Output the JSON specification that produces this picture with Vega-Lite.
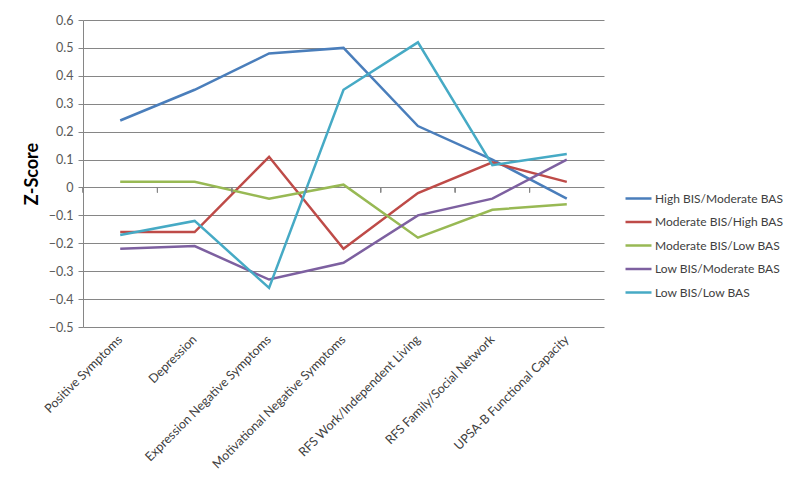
{
  "$schema": "https://vega.github.io/schema/vega-lite/v6.json",
  "width": 521,
  "height": 307,
  "autosize": {"type": "none"},
  "padding": {"left": 83, "top": 20, "right": 196, "bottom": 159},
  "background": "white",
  "config": {"view": {"stroke": null}, "font": "Lato"},
  "data": {
    "values": [
      {"measure": "Positive Symptoms", "group": "High BIS/Moderate BAS", "z": 0.24},
      {"measure": "Depression", "group": "High BIS/Moderate BAS", "z": 0.35},
      {"measure": "Expression Negative Symptoms", "group": "High BIS/Moderate BAS", "z": 0.48},
      {"measure": "Motivational Negative Symptoms", "group": "High BIS/Moderate BAS", "z": 0.50},
      {"measure": "RFS Work/Independent Living", "group": "High BIS/Moderate BAS", "z": 0.22},
      {"measure": "RFS Family/Social Network", "group": "High BIS/Moderate BAS", "z": 0.10},
      {"measure": "UPSA-B Functional Capacity", "group": "High BIS/Moderate BAS", "z": -0.04},
      {"measure": "Positive Symptoms", "group": "Moderate BIS/High BAS", "z": -0.16},
      {"measure": "Depression", "group": "Moderate BIS/High BAS", "z": -0.16},
      {"measure": "Expression Negative Symptoms", "group": "Moderate BIS/High BAS", "z": 0.11},
      {"measure": "Motivational Negative Symptoms", "group": "Moderate BIS/High BAS", "z": -0.22},
      {"measure": "RFS Work/Independent Living", "group": "Moderate BIS/High BAS", "z": -0.02},
      {"measure": "RFS Family/Social Network", "group": "Moderate BIS/High BAS", "z": 0.09},
      {"measure": "UPSA-B Functional Capacity", "group": "Moderate BIS/High BAS", "z": 0.02},
      {"measure": "Positive Symptoms", "group": "Moderate BIS/Low BAS", "z": 0.02},
      {"measure": "Depression", "group": "Moderate BIS/Low BAS", "z": 0.02},
      {"measure": "Expression Negative Symptoms", "group": "Moderate BIS/Low BAS", "z": -0.04},
      {"measure": "Motivational Negative Symptoms", "group": "Moderate BIS/Low BAS", "z": 0.01},
      {"measure": "RFS Work/Independent Living", "group": "Moderate BIS/Low BAS", "z": -0.18},
      {"measure": "RFS Family/Social Network", "group": "Moderate BIS/Low BAS", "z": -0.08},
      {"measure": "UPSA-B Functional Capacity", "group": "Moderate BIS/Low BAS", "z": -0.06},
      {"measure": "Positive Symptoms", "group": "Low BIS/Moderate BAS", "z": -0.22},
      {"measure": "Depression", "group": "Low BIS/Moderate BAS", "z": -0.21},
      {"measure": "Expression Negative Symptoms", "group": "Low BIS/Moderate BAS", "z": -0.33},
      {"measure": "Motivational Negative Symptoms", "group": "Low BIS/Moderate BAS", "z": -0.27},
      {"measure": "RFS Work/Independent Living", "group": "Low BIS/Moderate BAS", "z": -0.10},
      {"measure": "RFS Family/Social Network", "group": "Low BIS/Moderate BAS", "z": -0.04},
      {"measure": "UPSA-B Functional Capacity", "group": "Low BIS/Moderate BAS", "z": 0.10},
      {"measure": "Positive Symptoms", "group": "Low BIS/Low BAS", "z": -0.17},
      {"measure": "Depression", "group": "Low BIS/Low BAS", "z": -0.12},
      {"measure": "Expression Negative Symptoms", "group": "Low BIS/Low BAS", "z": -0.36},
      {"measure": "Motivational Negative Symptoms", "group": "Low BIS/Low BAS", "z": 0.35},
      {"measure": "RFS Work/Independent Living", "group": "Low BIS/Low BAS", "z": 0.52},
      {"measure": "RFS Family/Social Network", "group": "Low BIS/Low BAS", "z": 0.08},
      {"measure": "UPSA-B Functional Capacity", "group": "Low BIS/Low BAS", "z": 0.12}
    ]
  },
  "layer": [
    {
      "mark": {"type": "line", "strokeWidth": 2.5},
      "encoding": {
        "x": {
          "field": "measure",
          "type": "nominal",
          "bandPosition": 0.5,
          "sort": ["Positive Symptoms", "Depression", "Expression Negative Symptoms", "Motivational Negative Symptoms", "RFS Work/Independent Living", "RFS Family/Social Network", "UPSA-B Functional Capacity"],
          "scale": {"type": "band", "paddingInner": 0, "paddingOuter": 0},
          "axis": {
            "title": null,
            "domain": false,
            "ticks": false,
            "labelAngle": -45,
            "labelAlign": "right",
            "labelBaseline": "middle",
            "labelPadding": 10,
            "labelFontSize": 12.5,
            "labelColor": "#404040",
            "labelLimit": 300,
            "labelOverlap": false
          }
        },
        "y": {
          "field": "z",
          "type": "quantitative",
          "title": "Z-Score",
          "scale": {"domain": [-0.5, 0.6], "nice": false, "zero": false},
          "axis": {
            "title": "Z-Score",
            "titleFontSize": 18,
            "titleFontWeight": "bold",
            "titleColor": "#000000",
            "titlePadding": 7,
            "values": [-0.5, -0.4, -0.3, -0.2, -0.1, 0, 0.1, 0.2, 0.3, 0.4, 0.5, 0.6],
            "labelExpr": "datum.value == 0 ? '0' : format(datum.value, '.1f')",
            "labelFontSize": 12.5,
            "labelColor": "#595959",
            "labelPadding": 5,
            "labelOverlap": false,
            "labelBound": false,
            "tickSize": 5,
            "tickColor": "#868686",
            "domainColor": "#868686",
            "grid": true,
            "gridColor": "#868686",
            "gridWidth": 1
          }
        },
        "color": {
          "field": "group",
          "type": "nominal",
          "scale": {
            "domain": ["High BIS/Moderate BAS", "Moderate BIS/High BAS", "Moderate BIS/Low BAS", "Low BIS/Moderate BAS", "Low BIS/Low BAS"],
            "range": ["#4A7EBB", "#BE4B48", "#98B954", "#7D60A0", "#46AAC5"]
          },
          "legend": {
            "orient": "none",
            "legendX": 541,
            "legendY": 164,
            "title": null,
            "symbolType": "stroke",
            "symbolSize": 676,
            "symbolStrokeWidth": 2.5,
            "rowPadding": 2.5,
            "labelFontSize": 12,
            "labelColor": "#404040",
            "labelOffset": 2,
            "labelLimit": 200
          }
        }
      }
    },
    {
      "mark": {"type": "tick", "orient": "vertical", "size": 5, "thickness": 1, "color": "#868686", "yOffset": 2.5},
      "encoding": {
        "x": {
          "field": "measure",
          "type": "nominal",
          "bandPosition": 0,
          "sort": ["Positive Symptoms", "Depression", "Expression Negative Symptoms", "Motivational Negative Symptoms", "RFS Work/Independent Living", "RFS Family/Social Network", "UPSA-B Functional Capacity"],
          "axis": {
            "title": null,
            "domain": false,
            "ticks": false,
            "labelAngle": -45,
            "labelAlign": "right",
            "labelBaseline": "middle",
            "labelPadding": 10,
            "labelFontSize": 12.5,
            "labelColor": "#404040",
            "labelLimit": 300,
            "labelOverlap": false
          }
        },
        "y": {
          "datum": 0,
          "type": "quantitative",
          "title": "Z-Score",
          "axis": {
            "title": "Z-Score",
            "titleFontSize": 18,
            "titleFontWeight": "bold",
            "titleColor": "#000000",
            "titlePadding": 7,
            "values": [-0.5, -0.4, -0.3, -0.2, -0.1, 0, 0.1, 0.2, 0.3, 0.4, 0.5, 0.6],
            "labelExpr": "datum.value == 0 ? '0' : format(datum.value, '.1f')",
            "labelFontSize": 12.5,
            "labelColor": "#595959",
            "labelPadding": 5,
            "labelOverlap": false,
            "labelBound": false,
            "tickSize": 5,
            "tickColor": "#868686",
            "domainColor": "#868686",
            "grid": true,
            "gridColor": "#868686",
            "gridWidth": 1
          }
        }
      }
    }
  ]
}
